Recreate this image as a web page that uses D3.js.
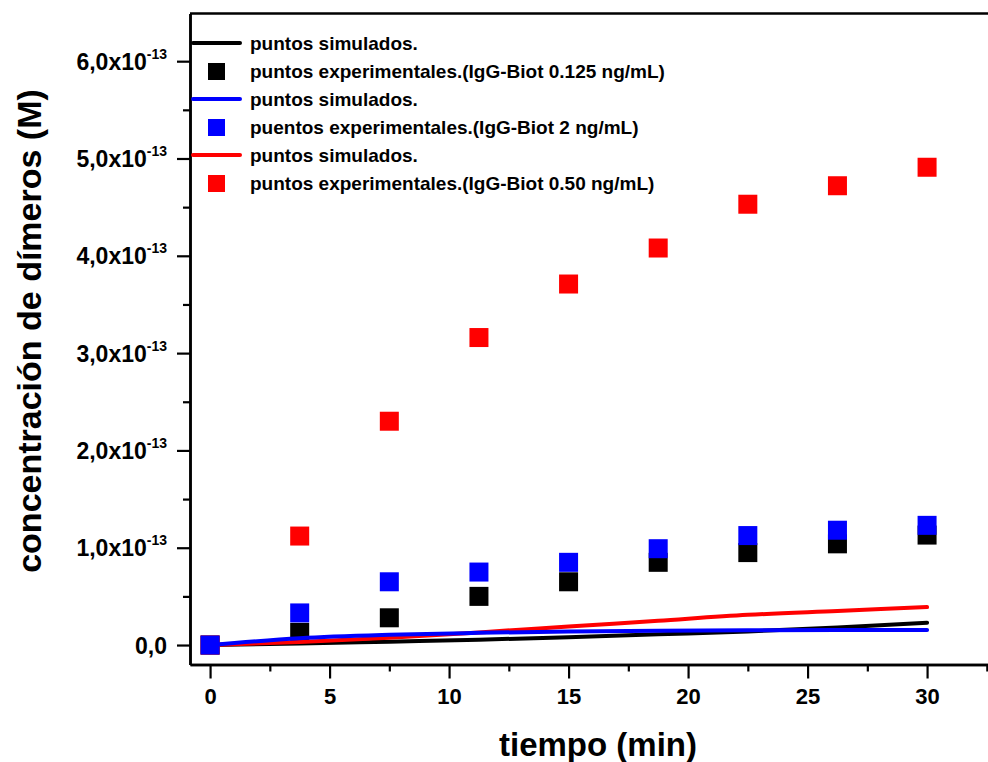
<!DOCTYPE html>
<html>
<head>
<meta charset="utf-8">
<script src="https://cdn.jsdelivr.net/npm/d3@7"></script>
<style>
  body { margin: 0; background: #fff; }
  svg { display: block; font-family: "Liberation Sans", Arial, sans-serif; font-weight: bold; }
</style>
</head>
<body>
<div id="chart"></div>
<script>
// values in units of 10^-13 M
const tiempo = [0, 3.75, 7.5, 11.25, 15, 18.75, 22.5, 26.25, 30];
const expNegro = [0, 0.13, 0.28, 0.5, 0.65, 0.85, 0.95, 1.04, 1.13];
const expAzul = [0, 0.33, 0.65, 0.75, 0.85, 0.99, 1.125, 1.18, 1.23];
const expRojo = [0, 1.12, 2.3, 3.16, 3.71, 4.08, 4.53, 4.72, 4.91];
const simNegro = [0, 0.015, 0.035, 0.055, 0.08, 0.11, 0.14, 0.18, 0.23];
const simAzul = [0, 0.07, 0.105, 0.125, 0.14, 0.148, 0.152, 0.154, 0.155];
const simRojo = [0, 0.03, 0.075, 0.13, 0.19, 0.25, 0.31, 0.35, 0.39];

const xTicks = [0, 5, 10, 15, 20, 25, 30];
const yTicks = [0, 1, 2, 3, 4, 5, 6];

const legendItems = [
  { type: "line", color: "#000000", label: "puntos simulados." },
  { type: "square", color: "#000000", label: "puntos experimentales.(IgG-Biot 0.125 ng/mL)" },
  { type: "line", color: "#0000ff", label: "puntos simulados." },
  { type: "square", color: "#0000ff", label: "puentos experimentales.(IgG-Biot 2 ng/mL)" },
  { type: "line", color: "#ff0000", label: "puntos simulados." },
  { type: "square", color: "#ff0000", label: "puntos experimentales.(IgG-Biot 0.50 ng/mL)" }
];

const dims = { width: 988, height: 762 };
const plot = { left: 190, top: 13.5, bottom: 664.5 };

const svg = d3
  .select("#chart")
  .append("svg")
  .attr("width", dims.width)
  .attr("height", dims.height);

// Scales (right end of the frame is cut off by the picture)
const xScale = d3.scaleLinear().domain([-0.84, 33.4]).range([plot.left, plot.left + 34.24 * 23.9]);
const yScale = d3.scaleLinear().domain([-0.2, 6.49]).range([plot.bottom, plot.top]);

// Axes: major + minor ticks
const xAxis = d3.axisBottom(xScale).tickValues(xTicks).tickSize(14).tickSizeOuter(0).tickPadding(10);
const xMinor = d3.axisBottom(xScale).tickValues(d3.range(2.5, 33, 5)).tickSize(7).tickSizeOuter(0).tickFormat("");
const yAxis = d3.axisLeft(yScale).tickValues(yTicks).tickSize(13).tickSizeOuter(0).tickFormat("");
const yMinor = d3.axisLeft(yScale).tickValues(d3.range(0.5, 6.5, 1)).tickSize(7).tickSizeOuter(0).tickFormat("");

const xAxisGroup = svg.append("g").attr("transform", `translate(0,${plot.bottom})`).call(xAxis);
svg.append("g").attr("transform", `translate(0,${plot.bottom})`).call(xMinor);
const yAxisGroup = svg.append("g").attr("transform", `translate(${plot.left},0)`).call(yAxis);
svg.append("g").attr("transform", `translate(${plot.left},0)`).call(yMinor);

svg.selectAll(".domain").attr("stroke", "#000").attr("stroke-width", 2.5);
svg.selectAll(".tick line").attr("stroke", "#000").attr("stroke-width", 2.2);

xAxisGroup
  .selectAll(".tick text")
  .attr("font-size", 22)
  .attr("font-weight", "bold")
  .attr("fill", "#000")
  .attr("font-family", "Liberation Sans, Arial, sans-serif");

// y tick labels with superscript exponent
yAxisGroup.selectAll(".tick").each(function(d) {
  const t = d3
    .select(this)
    .append("text")
    .attr("x", -23)
    .attr("y", 8)
    .attr("text-anchor", "end")
    .attr("fill", "#000")
    .attr("font-size", 23)
    .attr("font-weight", "bold")
    .attr("font-family", "Liberation Sans, Arial, sans-serif");
  if (d === 0) {
    t.text("0,0");
  } else {
    t.append("tspan").text(d + ",0x10");
    t.append("tspan").attr("font-size", 14).attr("dy", -11).text("-13");
  }
});

// top frame line
svg
  .append("line")
  .attr("x1", plot.left)
  .attr("x2", dims.width)
  .attr("y1", plot.top)
  .attr("y2", plot.top)
  .attr("stroke", "#000")
  .attr("stroke-width", 2.5);

// axis titles
svg
  .append("text")
  .attr("x", 598)
  .attr("y", 756)
  .attr("text-anchor", "middle")
  .attr("font-size", 33)
  .attr("fill", "#000")
  .text("tiempo (min)");

svg
  .append("text")
  .attr("transform", "translate(41,331) rotate(-90)")
  .attr("text-anchor", "middle")
  .attr("font-size", 34)
  .attr("fill", "#000")
  .text("concentración de dímeros (M)");

// Series
const lineGen = d3
  .line()
  .x((d, i) => xScale(tiempo[i]))
  .y(d => yScale(d))
  .curve(d3.curveMonotoneX);

const markSize = 19;
const drawLine = (vals, color) => {
  svg
    .append("path")
    .datum(vals)
    .attr("d", lineGen)
    .attr("fill", "none")
    .attr("stroke", color)
    .attr("stroke-width", 4)
    .attr("stroke-linecap", "round")
    .attr("stroke-linejoin", "round");
};
const drawSquares = (vals, color) => {
  svg
    .append("g")
    .selectAll("rect")
    .data(vals)
    .enter()
    .append("rect")
    .attr("x", (d, i) => xScale(tiempo[i]) - markSize / 2)
    .attr("y", d => yScale(d) - markSize / 2)
    .attr("width", markSize)
    .attr("height", markSize)
    .attr("fill", color);
};

drawLine(simNegro, "#000000");
drawSquares(expNegro, "#000000");
drawLine(simRojo, "#ff0000");
drawSquares(expRojo, "#ff0000");
drawLine(simAzul, "#0000ff");
drawSquares(expAzul, "#0000ff");

// Legend
const legendGroup = svg.append("g").attr("transform", "translate(193, 43)");
const rows = legendGroup
  .selectAll("g")
  .data(legendItems)
  .enter()
  .append("g")
  .attr("transform", (d, i) => `translate(0, ${i * 28})`);

rows
  .filter(d => d.type === "line")
  .append("line")
  .attr("x1", 0)
  .attr("x2", 47)
  .attr("y1", 0)
  .attr("y2", 0)
  .attr("stroke", d => d.color)
  .attr("stroke-width", 4)
  .attr("stroke-linecap", "round");

rows
  .filter(d => d.type === "square")
  .append("rect")
  .attr("x", 15)
  .attr("y", -8)
  .attr("width", 17)
  .attr("height", 17)
  .attr("fill", d => d.color);

rows
  .append("text")
  .attr("x", 57)
  .attr("y", 7)
  .attr("font-size", 19)
  .attr("fill", "#000")
  .text(d => d.label);
</script>
</body>
</html>
